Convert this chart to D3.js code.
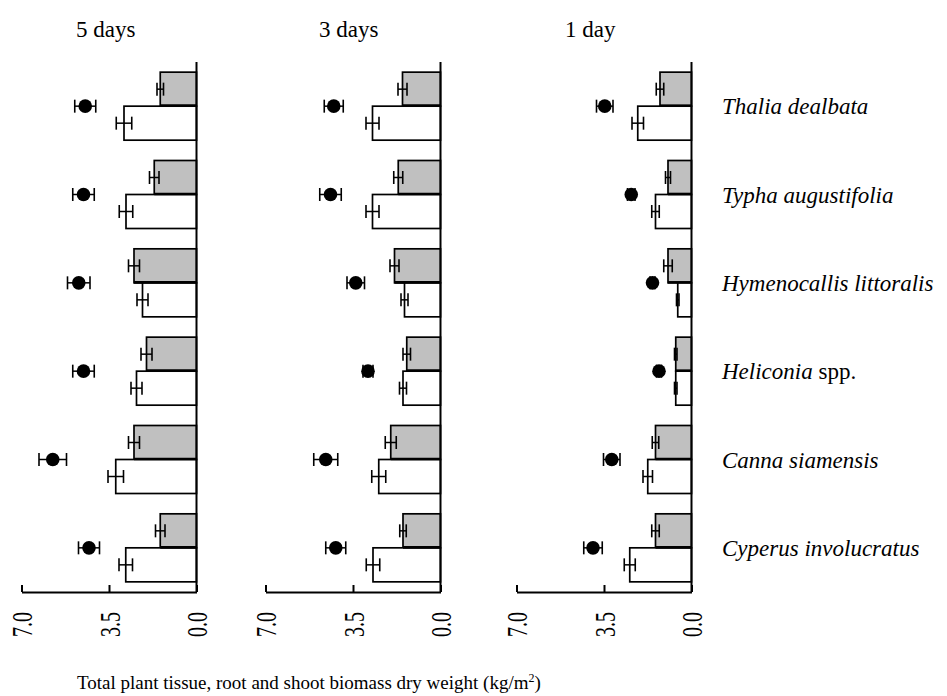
<!DOCTYPE html>
<html>
<head>
<meta charset="utf-8">
<script src="https://cdn.jsdelivr.net/npm/d3@7"></script>
<style>
  body { margin: 0; background: #fff; }
  svg { display: block; font-family: "Liberation Serif", "Times New Roman", serif; }
</style>
</head>
<body>
<svg id="main-vis" width="947" height="696"></svg>
<script>
// species top to bottom
var species = ["Thalia dealbata", "Typha augustifolia", "Hymenocallis littoralis", "Heliconia spp.", "Canna siamensis", "Cyperus involucratus"];
var periods = ["5 days", "3 days", "1 day"];
var ticks = [7.0, 3.5, 0.0];

// shoot (grey), root (white), total (dot) with error
var shoot5 = [1.45, 1.69, 2.50, 2.00, 2.50, 1.45];
var shootErr5 = [0.13, 0.19, 0.22, 0.22, 0.22, 0.19];
var root5 = [2.90, 2.82, 2.16, 2.40, 3.23, 2.83];
var rootErr5 = [0.31, 0.27, 0.22, 0.22, 0.31, 0.27];
var total5 = [4.45, 4.52, 4.71, 4.52, 5.75, 4.30];
var totalErr5 = [0.42, 0.43, 0.45, 0.43, 0.55, 0.42];

var shoot3 = [1.52, 1.69, 1.84, 1.35, 1.99, 1.50];
var shootErr3 = [0.18, 0.18, 0.18, 0.15, 0.22, 0.13];
var root3 = [2.72, 2.72, 1.44, 1.50, 2.47, 2.70];
var rootErr3 = [0.26, 0.26, 0.14, 0.14, 0.28, 0.27];
var total3 = [4.27, 4.40, 3.39, 2.90, 4.59, 4.19];
var totalErr3 = [0.38, 0.43, 0.35, 0.20, 0.48, 0.40];

var shoot1 = [1.26, 0.94, 0.94, 0.63, 1.44, 1.44];
var shootErr1 = [0.15, 0.10, 0.17, 0.05, 0.13, 0.15];
var root1 = [2.15, 1.44, 0.55, 0.63, 1.75, 2.47];
var rootErr1 = [0.23, 0.15, 0.05, 0.05, 0.19, 0.22];
var total1 = [3.47, 2.41, 1.56, 1.30, 3.19, 3.94];
var totalErr1 = [0.33, 0.15, 0.10, 0.10, 0.33, 0.37];

var panels = [
  {title: periods[0], shoot: shoot5, shootErr: shootErr5, root: root5, rootErr: rootErr5, total: total5, totalErr: totalErr5, right: 196.5, titleX: 76},
  {title: periods[1], shoot: shoot3, shootErr: shootErr3, root: root3, rootErr: rootErr3, total: total3, totalErr: totalErr3, right: 440.5, titleX: 319},
  {title: periods[2], shoot: shoot1, shootErr: shootErr1, root: root1, rootErr: rootErr1, total: total1, totalErr: totalErr1, right: 691.5, titleX: 565}
];

var plotW = 175;
var plotTop = 62, plotBottom = 592;
var cap = 6.5;

var svg = d3.select('#main-vis');

var y = d3.scaleBand()
  .domain(species)
  .range([plotTop, plotBottom])
  .paddingInner(0.23)
  .paddingOuter(0.115);

function errBar(g, x, v, e, cy) {
  g.append('line')
    .attr('x1', x(v - e)).attr('x2', x(v + e))
    .attr('y1', cy).attr('y2', cy)
    .attr('stroke', '#000').attr('stroke-width', 1.5);
  [v - e, v + e].forEach(function (d) {
    g.append('line')
      .attr('x1', x(d)).attr('x2', x(d))
      .attr('y1', cy - cap).attr('y2', cy + cap)
      .attr('stroke', '#000').attr('stroke-width', 1.6);
  });
}

panels.forEach(function (p) {
  var x = d3.scaleLinear().domain([7, 0]).range([p.right - plotW, p.right]);
  var g = svg.append('g');
  var half = y.bandwidth() / 2;

  species.forEach(function (s, i) {
    var y0 = y(s);
    // shoot bar (grey)
    g.append('rect')
      .attr('x', x(p.shoot[i])).attr('y', y0)
      .attr('width', x(0) - x(p.shoot[i])).attr('height', half)
      .attr('fill', '#c0c0c0').attr('stroke', '#000').attr('stroke-width', 1.7);
    // root bar (white)
    g.append('rect')
      .attr('x', x(p.root[i])).attr('y', y0 + half)
      .attr('width', x(0) - x(p.root[i])).attr('height', half)
      .attr('fill', '#fff').attr('stroke', '#000').attr('stroke-width', 1.7);
    // heavier base line of the shoot bar
    g.append('line')
      .attr('x1', x(p.shoot[i])).attr('x2', x(0))
      .attr('y1', y0 + half - 0.5).attr('y2', y0 + half - 0.5)
      .attr('stroke', '#000').attr('stroke-width', 2.6);
    errBar(g, x, p.shoot[i], p.shootErr[i], y0 + half / 2);
    errBar(g, x, p.root[i], p.rootErr[i], y0 + half * 1.5);
    // total dot
    errBar(g, x, p.total[i], p.totalErr[i], y0 + half);
    g.append('circle')
      .attr('cx', x(p.total[i])).attr('cy', y0 + half)
      .attr('r', 6.8).attr('fill', '#000');
  });

  // vertical zero line
  g.append('line')
    .attr('x1', x(0)).attr('x2', x(0))
    .attr('y1', plotTop).attr('y2', plotBottom)
    .attr('stroke', '#000').attr('stroke-width', 2);

  var axis = g.append('g')
    .attr('transform', 'translate(0,' + plotBottom + ')')
    .call(d3.axisBottom(x).tickValues(ticks).tickSizeInner(-7).tickSizeOuter(0).tickFormat(d3.format('.1f')));
  axis.select('.domain').attr('stroke-width', 2);
  axis.selectAll('.tick line').attr('stroke-width', 2);
  axis.selectAll('.tick text')
    .attr('transform', 'rotate(-90) scale(1,1.45)')
    .attr('x', -20).attr('y', 0).attr('dy', '0.35em')
    .attr('text-anchor', 'end')
    .attr('font-family', '"Liberation Serif", serif')
    .attr('font-size', 20)
    .attr('fill', '#000');

  svg.append('text')
    .attr('x', p.titleX).attr('y', 37)
    .attr('font-size', 23)
    .text(p.title);
});

// species labels
var labels = svg.selectAll('.species')
  .data(species)
  .enter()
  .append('text')
  .attr('class', 'species')
  .attr('x', 722)
  .attr('y', function (d) { return y(d) + y.bandwidth() / 2 + 8; })
  .attr('font-size', 23);

labels.each(function (d) {
  var t = d3.select(this);
  if (d.indexOf(' spp.') > 0) {
    t.append('tspan').attr('font-style', 'italic').text(d.replace(' spp.', ''));
    t.append('tspan').text(' spp.');
  } else {
    t.append('tspan').attr('font-style', 'italic').text(d);
  }
});

// x label
var xl = svg.append('text')
  .attr('x', 77).attr('y', 689)
  .attr('font-size', 19)
  .text('Total plant tissue, root and shoot biomass dry weight (kg/m');
xl.append('tspan').attr('baseline-shift', 'super').attr('font-size', 12).text('2');
xl.append('tspan').text(')');
</script>
</body>
</html>
